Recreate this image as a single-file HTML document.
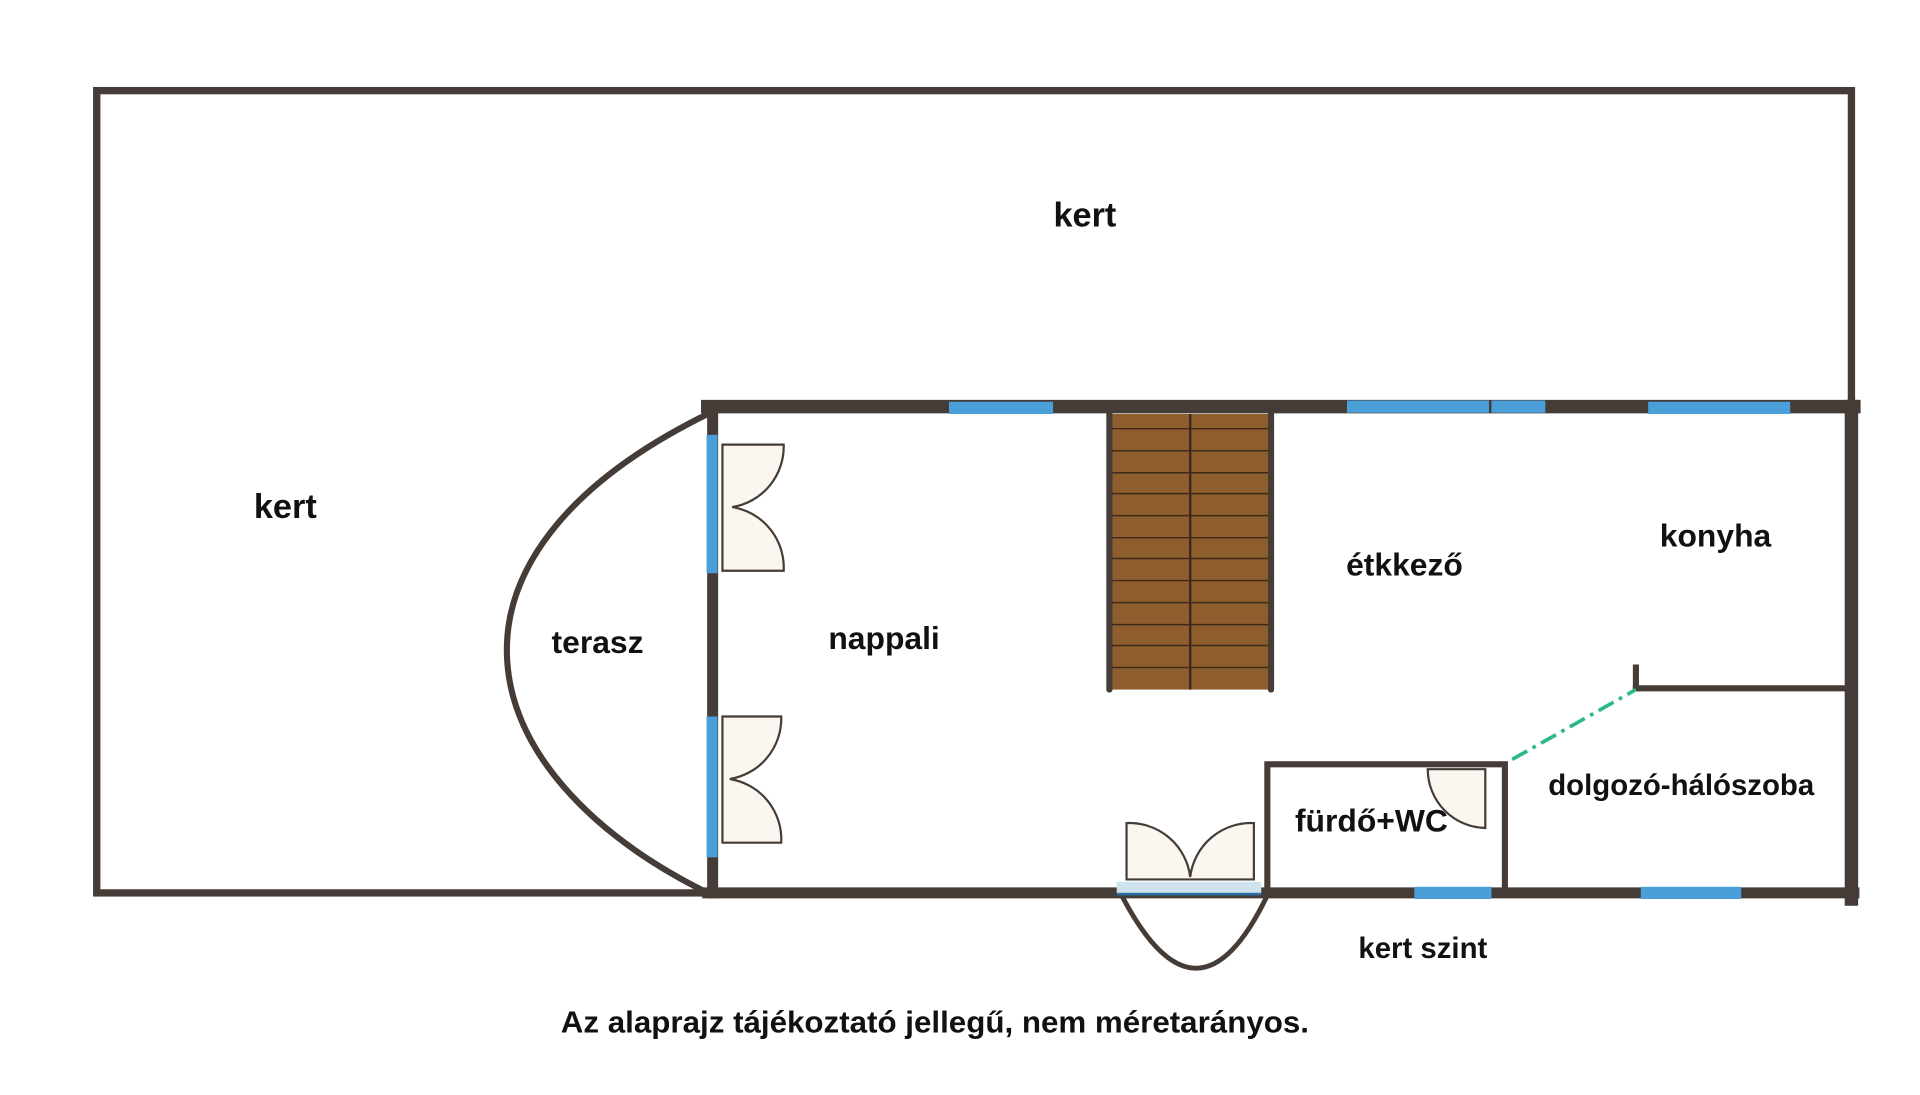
<!DOCTYPE html>
<html><head><meta charset="utf-8"><style>
html,body{margin:0;padding:0;background:#fff;width:1920px;height:1095px;overflow:hidden}
svg{display:block}
text{font-family:"Liberation Sans",sans-serif;font-weight:bold;fill:#111}
</style></head><body>
<svg width="1920" height="1095" viewBox="0 0 1568 894" preserveAspectRatio="none" xmlns="http://www.w3.org/2000/svg">
<g stroke="#463c37" fill="none" stroke-linecap="square">
<rect x="79" y="74" width="1433" height="655" stroke-width="6"/>
<line x1="578" y1="332" x2="1514" y2="332" stroke-width="11"/>
<line x1="1512" y1="332" x2="1512" y2="734" stroke-width="11"/>
<line x1="578" y1="729" x2="1514" y2="729" stroke-width="9"/>
<line x1="582" y1="334" x2="582" y2="729" stroke-width="9"/>
<path d="M578,338 C340,455 380,630 576,728" stroke-width="5"/>
<rect x="1035" y="624" width="194" height="104" stroke-width="5"/>
<line x1="1336" y1="562" x2="1510" y2="562" stroke-width="5"/>
<line x1="1336" y1="545" x2="1336" y2="562" stroke-width="5"/>
<path d="M916,731 Q978,850 1035,731" stroke-width="4"/>
</g>
<rect x="908" y="338" width="130" height="225" fill="#8e5e2e"/>
<g stroke="#3e2a1a" stroke-width="1.2">
<line x1="908" y1="350" x2="1038" y2="350"/><line x1="908" y1="368" x2="1038" y2="368"/>
<line x1="908" y1="386" x2="1038" y2="386"/><line x1="908" y1="403" x2="1038" y2="403"/>
<line x1="908" y1="421" x2="1038" y2="421"/><line x1="908" y1="439" x2="1038" y2="439"/>
<line x1="908" y1="456" x2="1038" y2="456"/><line x1="908" y1="474" x2="1038" y2="474"/>
<line x1="908" y1="492" x2="1038" y2="492"/><line x1="908" y1="510" x2="1038" y2="510"/>
<line x1="908" y1="527" x2="1038" y2="527"/><line x1="908" y1="545" x2="1038" y2="545"/>
<line x1="972" y1="338" x2="972" y2="563" stroke-width="2"/>
</g>
<g stroke="#463c37" stroke-width="5" stroke-linecap="round">
<line x1="906" y1="336" x2="906" y2="563"/><line x1="1038" y1="336" x2="1038" y2="563"/>
</g>
<g fill="#4a9fd8">
<rect x="775" y="328" width="85" height="10"/><rect x="1100" y="327" width="116" height="10"/>
<rect x="1218" y="327" width="44" height="10"/><rect x="1346" y="328" width="116" height="10"/>
<rect x="577" y="355" width="9" height="113"/><rect x="577" y="585" width="9" height="115"/>
<rect x="1155" y="724" width="63" height="10"/><rect x="1340" y="724" width="82" height="10"/>
<rect x="912" y="720" width="118" height="9" fill="#cfe3ef"/>
</g>
<line x1="912" y1="730" x2="1030" y2="730" stroke="#2a6fa8" stroke-width="2"/>
<g fill="#fbf7f0" stroke="#463c37" stroke-width="1.8">
<path d="M590,363 H640 A50,50 0 0 1 598,414 A50,50 0 0 1 640,466 H590 Z"/>
<path d="M590,585 H638 A50,50 0 0 1 596,636 A50,50 0 0 1 638,688 H590 Z"/>
<path d="M920,718 V672 A50,50 0 0 1 972,716 A50,50 0 0 1 1024,672 V718 Z"/>
<path d="M1213,628 V676 A48,48 0 0 1 1166,628 Z"/>
</g>
<line x1="1235" y1="620" x2="1336" y2="563" stroke="#2bb88a" stroke-width="3" stroke-dasharray="14,5,3,5"/>
<g font-size="26">
<text x="886" y="185" text-anchor="middle" font-size="28">kert</text>
<text x="233" y="423" text-anchor="middle" font-size="28">kert</text>
<text x="488" y="533" text-anchor="middle">terasz</text>
<text x="722" y="530" text-anchor="middle">nappali</text>
<text x="1147" y="470" text-anchor="middle">étkkező</text>
<text x="1401" y="446" text-anchor="middle">konyha</text>
<text x="1373" y="649" text-anchor="middle" font-size="24">dolgozó-hálószoba</text>
<text x="1120" y="679" text-anchor="middle">fürdő+WC</text>
<text x="1162" y="782" text-anchor="middle" font-size="24">kert szint</text>
<text x="458" y="843" font-size="25" textLength="611" lengthAdjust="spacingAndGlyphs">Az alaprajz tájékoztató jellegű, nem méretarányos.</text>
</g>
</svg>
</body></html>
